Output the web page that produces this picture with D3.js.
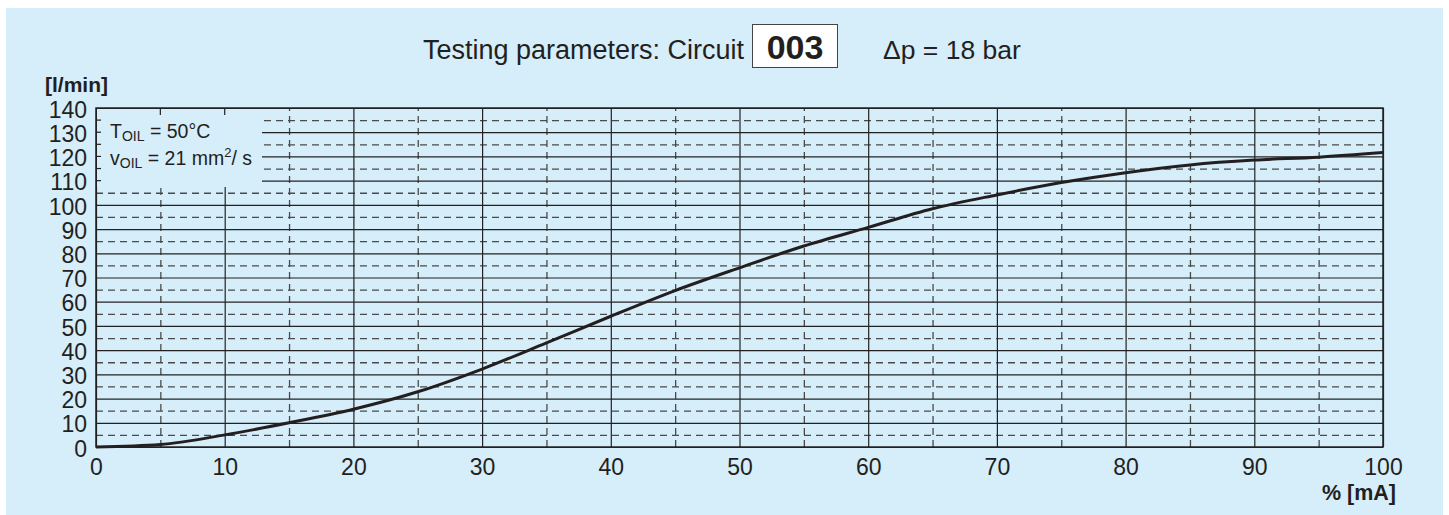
<!DOCTYPE html>
<html>
<head>
<meta charset="utf-8">
<script src="https://cdn.jsdelivr.net/npm/d3@7"></script>
<style>
  body { margin: 0; background: #fff; }
  svg { display: block; font-family: "Liberation Sans", Arial, sans-serif; }
</style>
</head>
<body>
<svg width="1449" height="515"></svg>
<script>
// current in % of max [mA]
const current = [0, 5, 10, 15, 20, 25, 30, 35, 40, 45, 50, 55, 60, 65, 70, 75, 80, 85, 90, 95, 100];
// flow [l/min]
const flow = [0, 1, 5, 10, 15.6, 22.8, 32.2, 43, 54, 64.6, 74, 83, 90.7, 98.4, 104.1, 109.2, 113.3, 116.5, 118.5, 119.7, 121.6];

const xTicks = [0, 10, 20, 30, 40, 50, 60, 70, 80, 90, 100];
const yTicks = [0, 10, 20, 30, 40, 50, 60, 70, 80, 90, 100, 110, 120, 130, 140];
const xHalf = [5, 15, 25, 35, 45, 55, 65, 75, 85, 95];
const yHalf = [5, 15, 25, 35, 45, 55, 65, 75, 85, 95, 105, 115, 125, 135];

function main(){
  const svg = d3.select("svg");
  const ink = "#231f20";

  // light blue panel
  svg.append("rect").attr("x", 6).attr("y", 8).attr("width", 1437).attr("height", 507).attr("fill", "#d6edfa");

  const left = 96, right = 1383, top = 108, bottom = 447;
  const x = d3.scaleLinear().domain([0, 100]).range([left, right]);
  const y = d3.scaleLinear().domain([0, 140]).range([bottom, top]);
  const W = right - left, H = bottom - top;

  // dashed grid (5s)
  svg.append("g").attr("transform", `translate(${left},0)`)
    .call(d3.axisLeft(y).tickValues(yHalf).tickSize(-W).tickFormat(""))
    .call(g => g.select(".domain").remove())
    .selectAll("line").attr("stroke", "#4a4a4a").attr("stroke-dasharray", "7,5").attr("stroke-width", 1.3);
  svg.append("g").attr("transform", `translate(0,${bottom})`)
    .call(d3.axisBottom(x).tickValues(xHalf).tickSize(-H).tickFormat(""))
    .call(g => g.select(".domain").remove())
    .selectAll("line").attr("stroke", "#4a4a4a").attr("stroke-dasharray", "7,5").attr("stroke-width", 1.3);

  // solid grid (10s)
  svg.append("g").attr("transform", `translate(${left},0)`)
    .call(d3.axisLeft(y).tickValues(yTicks).tickSize(-W).tickFormat(""))
    .call(g => g.select(".domain").remove())
    .selectAll("line").attr("stroke", "#222").attr("stroke-width", 1.2);
  svg.append("g").attr("transform", `translate(0,${bottom})`)
    .call(d3.axisBottom(x).tickValues(xTicks).tickSize(-H).tickFormat(""))
    .call(g => g.select(".domain").remove())
    .selectAll("line").attr("stroke", "#222").attr("stroke-width", 1.2);

  // legend box cut-out in the grid
  const bx1 = x(0) + 1, bx2 = 262, by1 = y(140) + 1, by2 = 187;
  svg.append("rect").attr("x", bx1).attr("y", by1).attr("width", bx2 - bx1).attr("height", by2 - by1).attr("fill", "#d6edfa");
  // short ticks left inside the box
  [110, 115, 120, 125, 130, 135].forEach(v => {
    svg.append("line").attr("x1", left).attr("x2", left + 5).attr("y1", y(v)).attr("y2", y(v)).attr("stroke", "#222").attr("stroke-width", 1.2);
  });
  [5, 10].forEach(v => {
    svg.append("line").attr("x1", x(v)).attr("x2", x(v)).attr("y1", top).attr("y2", top + 7).attr("stroke", "#222").attr("stroke-width", 1.2);
  });

  // frame
  svg.append("rect").attr("x", left).attr("y", top).attr("width", W).attr("height", H)
    .attr("fill", "none").attr("stroke", "#222").attr("stroke-width", 1.5);

  // curve
  const line = d3.line().x(d => x(d[0])).y(d => y(d[1])).curve(d3.curveMonotoneX);
  svg.append("path").datum(current.map((c, i) => [c, flow[i]]))
    .attr("d", line).attr("fill", "none").attr("stroke", ink).attr("stroke-width", 3);

  // tick labels
  const yAxis = svg.append("g").attr("transform", `translate(${left - 9},0)`)
    .call(d3.axisLeft(y).tickValues(yTicks).tickSize(0).tickPadding(0));
  yAxis.select(".domain").remove();
  yAxis.selectAll("text").attr("font-size", 23).attr("fill", ink).attr("dy", "0.4em")
    .style("font-family", "Liberation Sans, Arial, sans-serif");

  const xAxis = svg.append("g").attr("transform", `translate(0,${bottom})`)
    .call(d3.axisBottom(x).tickValues(xTicks).tickSize(0).tickPadding(12));
  xAxis.select(".domain").remove();
  xAxis.selectAll("text").attr("font-size", 23).attr("fill", ink)
    .style("font-family", "Liberation Sans, Arial, sans-serif");

  // axis units
  svg.append("text").attr("x", 45).attr("y", 92).attr("font-size", 21).attr("font-weight", "bold").attr("fill", ink).text("[l/min]");
  svg.append("text").attr("x", 1396).attr("y", 500).attr("text-anchor", "end").attr("font-size", 21.5).attr("font-weight", "bold").attr("fill", ink).text("% [mA]");

  // legend text
  const t1 = svg.append("text").attr("x", 110).attr("y", 138).attr("font-size", 19.5).attr("fill", ink);
  t1.append("tspan").text("T");
  t1.append("tspan").attr("font-size", 14).attr("dy", 3).text("OIL");
  t1.append("tspan").attr("dy", -3).text(" =  50°C");
  const t2 = svg.append("text").attr("x", 110).attr("y", 165).attr("font-size", 19.5).attr("fill", ink);
  t2.append("tspan").text("v");
  t2.append("tspan").attr("font-size", 14).attr("dy", 3).text("OIL");
  t2.append("tspan").attr("dy", -3).text(" =  21 mm");
  t2.append("tspan").attr("font-size", 13).attr("dy", -8).text("2");
  t2.append("tspan").attr("dy", 8).text("/ s");

  // title
  svg.append("text").attr("x", 423).attr("y", 59).attr("font-size", 27).attr("fill", ink).text("Testing parameters: Circuit");
  svg.append("rect").attr("x", 752.5).attr("y", 24.5).attr("width", 85).attr("height", 43).attr("fill", "#fff").attr("stroke", "#444").attr("stroke-width", 1);
  svg.append("text").attr("x", 795).attr("y", 59).attr("text-anchor", "middle").attr("font-size", 34).attr("font-weight", "bold").attr("fill", ink).text("003");
  svg.append("text").attr("x", 883).attr("y", 59).attr("font-size", 26.5).attr("fill", ink).text("Δp = 18 bar");
}

main();
</script>
</body>
</html>
